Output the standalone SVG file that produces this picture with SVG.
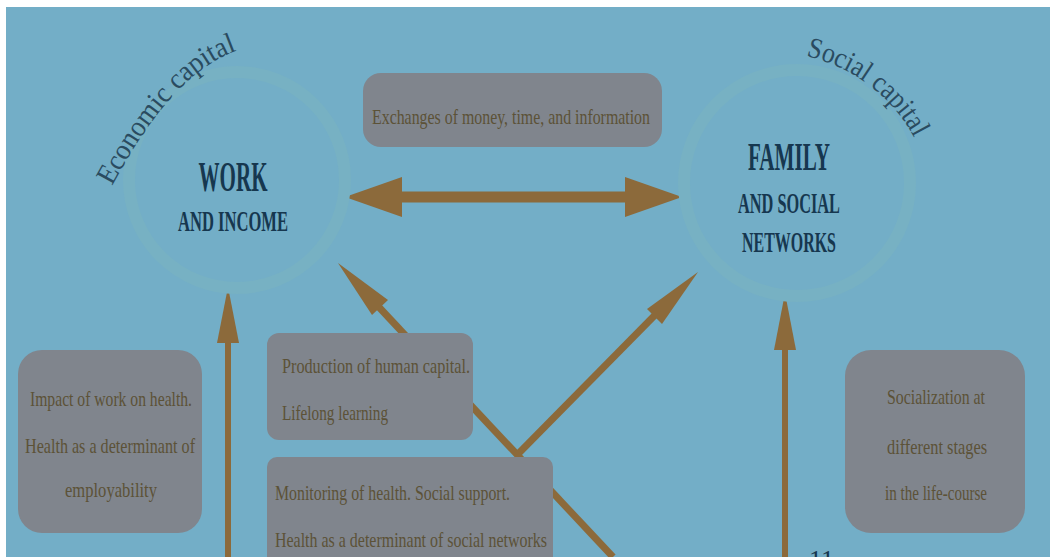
<svg xmlns="http://www.w3.org/2000/svg" width="1050" height="557" viewBox="0 0 1050 557">
<defs>
<style>
.bg{fill:#73AEC7}
.ring{fill:none;stroke:#77B1C3;stroke-width:12}
.box{fill:#80858D}
.arw{fill:#8C6A3B}
.shaft{stroke:#8C6A3B;fill:none}
.title{font-family:"Liberation Serif",serif;fill:#16374F;font-weight:bold}
.num{font-family:"Liberation Serif",serif;fill:#16374F;font-size:26px}
.cap{font-family:"Liberation Serif",serif;fill:#2A4B60;font-size:29px}
.bt{font-family:"Liberation Serif",serif;fill:#5C5237;font-size:22px}
</style>
<path id="ecoPath" d="M112,186 C134,146 180,64 246,48"/>
<path id="socPath" d="M806,56 C850,66 896,96 918,146"/>
</defs>
<rect x="0" y="0" width="1050" height="557" fill="#ffffff"/>
<rect class="bg" x="6" y="7" width="1044" height="550"/>

<g id="connectors">
  <line class="shaft" x1="395" y1="197" x2="632" y2="197" stroke-width="11"/>
  <polygon class="arw" points="345,197 402,177 402,217"/>
  <polygon class="arw" points="682,197 625,177 625,217"/>
  <line class="shaft" x1="228" y1="557" x2="228" y2="330" stroke-width="6"/>
  <polygon class="arw" points="228,287 239,343 217,343"/>
  <line class="shaft" x1="785" y1="557" x2="785" y2="335" stroke-width="6"/>
  <polygon class="arw" points="785,293 796,350 774,350"/>
  <line class="shaft" x1="613" y1="557" x2="376" y2="304" stroke-width="7"/>
  <polygon class="arw" points="338,263 388,300 372,315"/>
  <line class="shaft" x1="517" y1="455" x2="659" y2="311" stroke-width="7"/>
  <polygon class="arw" points="698,272 662,324 647,309"/>
</g>

<g id="work">
  <circle class="ring" cx="237" cy="180" r="108"/>
  <text class="title" x="233" y="191" font-size="42" text-anchor="middle" textLength="69" lengthAdjust="spacingAndGlyphs">WORK</text>
  <text class="title" x="233" y="231" font-size="29" text-anchor="middle" textLength="110" lengthAdjust="spacingAndGlyphs">AND INCOME</text>
  <text class="cap"><textPath href="#ecoPath" textLength="188" lengthAdjust="spacingAndGlyphs">Economic capital</textPath></text>
</g>

<g id="family">
  <circle class="ring" cx="797" cy="183" r="113"/>
  <text class="title" x="789" y="170" font-size="40" text-anchor="middle" textLength="82" lengthAdjust="spacingAndGlyphs">FAMILY</text>
  <text class="title" x="789" y="213" font-size="29" text-anchor="middle" textLength="102" lengthAdjust="spacingAndGlyphs">AND SOCIAL</text>
  <text class="title" x="789" y="252" font-size="29" text-anchor="middle" textLength="94" lengthAdjust="spacingAndGlyphs">NETWORKS</text>
  <text class="cap"><textPath href="#socPath" textLength="140" lengthAdjust="spacingAndGlyphs">Social capital</textPath></text>
</g>

<g id="exchanges">
  <rect class="box" x="363" y="73" width="299" height="74" rx="18"/>
  <text class="bt" x="372" y="124" textLength="278" lengthAdjust="spacingAndGlyphs">Exchanges of money, time, and information</text>
</g>

<g id="impact">
  <rect class="box" x="18" y="350" width="184" height="183" rx="24"/>
  <text class="bt" x="111" y="406" text-anchor="middle" textLength="162" lengthAdjust="spacingAndGlyphs">Impact of work on health.</text>
  <text class="bt" x="110" y="453" text-anchor="middle" textLength="170" lengthAdjust="spacingAndGlyphs">Health as a determinant of</text>
  <text class="bt" x="111" y="497" text-anchor="middle" textLength="92" lengthAdjust="spacingAndGlyphs">employability</text>
</g>

<g id="production">
  <rect class="box" x="267" y="333" width="206" height="107" rx="12"/>
  <text class="bt" x="282" y="373" textLength="188" lengthAdjust="spacingAndGlyphs">Production of human capital.</text>
  <text class="bt" x="282" y="420" textLength="106" lengthAdjust="spacingAndGlyphs">Lifelong learning</text>
</g>

<g id="monitoring">
  <rect class="box" x="267" y="457" width="286" height="110" rx="10"/>
  <text class="bt" x="275" y="500" textLength="235" lengthAdjust="spacingAndGlyphs">Monitoring of health. Social support.</text>
  <text class="bt" x="275" y="547" textLength="272" lengthAdjust="spacingAndGlyphs">Health as a determinant of social networks</text>
</g>

<g id="socialization">
  <rect class="box" x="845" y="350" width="180" height="183" rx="26"/>
  <text class="bt" x="936" y="404" text-anchor="middle" textLength="98" lengthAdjust="spacingAndGlyphs">Socialization at</text>
  <text class="bt" x="937" y="454" text-anchor="middle" textLength="100" lengthAdjust="spacingAndGlyphs">different stages</text>
  <text class="bt" x="936" y="500" text-anchor="middle" textLength="102" lengthAdjust="spacingAndGlyphs">in the life-course</text>
</g>

<text class="num" x="809" y="568">11</text>
</svg>
